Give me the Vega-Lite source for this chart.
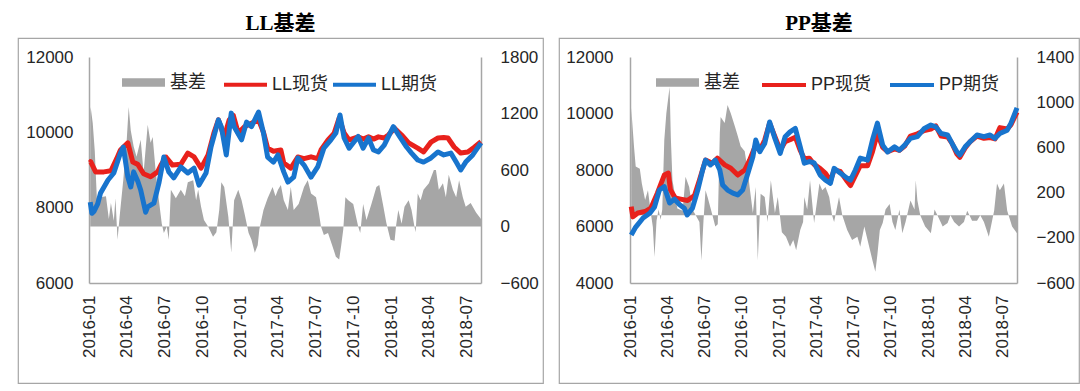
{
  "$schema": "https://vega.github.io/schema/vega-lite/v6.json",
  "background": "white",
  "padding": {"left": 17, "top": 12, "right": 0, "bottom": 0},
  "spacing": 14,
  "resolve": {"scale": {"fill": "independent", "stroke": "independent"}, "legend": {"fill": "independent", "stroke": "independent"}},
  "config": {
    "font": "Liberation Sans",
    "view": {"stroke": "#a6a6a6", "strokeWidth": 1.2, "fill": "white"},
    "axis": {"grid": false, "ticks": false, "domainColor": "#a6a6a6", "domainWidth": 1.5, "labelFontSize": 17, "labelColor": "#262626", "labelFont": "Liberation Sans"},
    "legend": {"labelFontSize": 18, "labelColor": "#262626", "labelFont": "Liberation Sans, Noto Sans CJK SC", "padding": 0},
    "title": {"font": "Liberation Serif, Noto Sans CJK SC", "fontSize": 21, "fontWeight": "bold", "color": "#000000", "anchor": "middle", "baseline": "bottom", "offset": 4}
  },
  "datasets": {
    "ll": [
      {"d": "2016/01/04", "k": "基差", "v": 1200}, {"d": "2016/01/05", "k": "基差", "v": 1270}, {"d": "2016/01/10", "k": "基差", "v": 1100}, {"d": "2016/01/15", "k": "基差", "v": 800}, {"d": "2016/01/20", "k": "基差", "v": 300}, {"d": "2016/01/29", "k": "基差", "v": 310}, {"d": "2016/02/11", "k": "基差", "v": 320}, {"d": "2016/02/18", "k": "基差", "v": 80}, {"d": "2016/02/23", "k": "基差", "v": 250}, {"d": "2016/03/01", "k": "基差", "v": 60}, {"d": "2016/03/05", "k": "基差", "v": 300}, {"d": "2016/03/10", "k": "基差", "v": -140}, {"d": "2016/03/15", "k": "基差", "v": 100}, {"d": "2016/03/24", "k": "基差", "v": 500}, {"d": "2016/04/01", "k": "基差", "v": 900}, {"d": "2016/04/06", "k": "基差", "v": 1270}, {"d": "2016/04/11", "k": "基差", "v": 1020}, {"d": "2016/04/18", "k": "基差", "v": 850}, {"d": "2016/04/25", "k": "基差", "v": 740}, {"d": "2016/05/05", "k": "基差", "v": 920}, {"d": "2016/05/12", "k": "基差", "v": 570}, {"d": "2016/05/22", "k": "基差", "v": 1080}, {"d": "2016/05/29", "k": "基差", "v": 890}, {"d": "2016/06/03", "k": "基差", "v": 950}, {"d": "2016/06/10", "k": "基差", "v": 600}, {"d": "2016/06/18", "k": "基差", "v": 280}, {"d": "2016/06/25", "k": "基差", "v": 30}, {"d": "2016/06/30", "k": "基差", "v": -70}, {"d": "2016/07/07", "k": "基差", "v": 0}, {"d": "2016/07/12", "k": "基差", "v": -140}, {"d": "2016/07/17", "k": "基差", "v": 390}, {"d": "2016/07/29", "k": "基差", "v": 300}, {"d": "2016/08/10", "k": "基差", "v": 390}, {"d": "2016/08/20", "k": "基差", "v": 320}, {"d": "2016/08/27", "k": "基差", "v": 470}, {"d": "2016/09/09", "k": "基差", "v": 490}, {"d": "2016/09/16", "k": "基差", "v": 280}, {"d": "2016/09/21", "k": "基差", "v": 390}, {"d": "2016/09/28", "k": "基差", "v": 210}, {"d": "2016/10/05", "k": "基差", "v": 70}, {"d": "2016/10/15", "k": "基差", "v": 0}, {"d": "2016/10/27", "k": "基差", "v": -110}, {"d": "2016/11/04", "k": "基差", "v": -60}, {"d": "2016/11/11", "k": "基差", "v": 175}, {"d": "2016/11/16", "k": "基差", "v": 470}, {"d": "2016/11/23", "k": "基差", "v": 420}, {"d": "2016/12/03", "k": "基差", "v": 100}, {"d": "2016/12/10", "k": "基差", "v": -280}, {"d": "2016/12/17", "k": "基差", "v": 280}, {"d": "2016/12/27", "k": "基差", "v": 390}, {"d": "2017/01/04", "k": "基差", "v": 280}, {"d": "2017/01/11", "k": "基差", "v": 140}, {"d": "2017/01/21", "k": "基差", "v": -70}, {"d": "2017/01/28", "k": "基差", "v": -140}, {"d": "2017/02/05", "k": "基差", "v": -280}, {"d": "2017/02/12", "k": "基差", "v": -200}, {"d": "2017/02/16", "k": "基差", "v": -30}, {"d": "2017/02/26", "k": "基差", "v": 175}, {"d": "2017/03/08", "k": "基差", "v": 300}, {"d": "2017/03/20", "k": "基差", "v": 420}, {"d": "2017/03/27", "k": "基差", "v": 320}, {"d": "2017/04/02", "k": "基差", "v": 390}, {"d": "2017/04/09", "k": "基差", "v": 440}, {"d": "2017/04/16", "k": "基差", "v": 280}, {"d": "2017/04/26", "k": "基差", "v": 175}, {"d": "2017/05/03", "k": "基差", "v": 420}, {"d": "2017/05/10", "k": "基差", "v": 175}, {"d": "2017/05/22", "k": "基差", "v": 240}, {"d": "2017/06/04", "k": "基差", "v": 420}, {"d": "2017/06/13", "k": "基差", "v": 490}, {"d": "2017/06/21", "k": "基差", "v": 350}, {"d": "2017/07/03", "k": "基差", "v": 310}, {"d": "2017/07/10", "k": "基差", "v": 140}, {"d": "2017/07/15", "k": "基差", "v": 0}, {"d": "2017/07/22", "k": "基差", "v": -90}, {"d": "2017/08/01", "k": "基差", "v": -70}, {"d": "2017/08/11", "k": "基差", "v": -200}, {"d": "2017/08/20", "k": "基差", "v": -320}, {"d": "2017/08/28", "k": "基差", "v": -350}, {"d": "2017/09/02", "k": "基差", "v": -200}, {"d": "2017/09/07", "k": "基差", "v": -30}, {"d": "2017/09/12", "k": "基差", "v": 310}, {"d": "2017/09/19", "k": "基差", "v": 280}, {"d": "2017/10/01", "k": "基差", "v": 240}, {"d": "2017/10/13", "k": "基差", "v": 0}, {"d": "2017/10/18", "k": "基差", "v": -70}, {"d": "2017/10/25", "k": "基差", "v": 240}, {"d": "2017/11/02", "k": "基差", "v": 70}, {"d": "2017/11/14", "k": "基差", "v": 240}, {"d": "2017/11/26", "k": "基差", "v": 420}, {"d": "2017/12/03", "k": "基差", "v": 440}, {"d": "2017/12/13", "k": "基差", "v": 210}, {"d": "2017/12/20", "k": "基差", "v": 40}, {"d": "2017/12/30", "k": "基差", "v": -140}, {"d": "2018/01/09", "k": "基差", "v": -150}, {"d": "2018/01/13", "k": "基差", "v": 20}, {"d": "2018/01/18", "k": "基差", "v": 175}, {"d": "2018/01/26", "k": "基差", "v": 30}, {"d": "2018/02/02", "k": "基差", "v": 210}, {"d": "2018/02/12", "k": "基差", "v": 280}, {"d": "2018/02/19", "k": "基差", "v": 175}, {"d": "2018/02/26", "k": "基差", "v": 0}, {"d": "2018/03/01", "k": "基差", "v": -60}, {"d": "2018/03/06", "k": "基差", "v": 350}, {"d": "2018/03/13", "k": "基差", "v": 280}, {"d": "2018/03/20", "k": "基差", "v": 390}, {"d": "2018/04/02", "k": "基差", "v": 460}, {"d": "2018/04/14", "k": "基差", "v": 600}, {"d": "2018/04/19", "k": "基差", "v": 600}, {"d": "2018/04/26", "k": "基差", "v": 390}, {"d": "2018/05/06", "k": "基差", "v": 460}, {"d": "2018/05/13", "k": "基差", "v": 310}, {"d": "2018/05/20", "k": "基差", "v": 550}, {"d": "2018/05/30", "k": "基差", "v": 390}, {"d": "2018/06/07", "k": "基差", "v": 310}, {"d": "2018/06/14", "k": "基差", "v": 490}, {"d": "2018/06/23", "k": "基差", "v": 310}, {"d": "2018/06/30", "k": "基差", "v": 210}, {"d": "2018/07/12", "k": "基差", "v": 250}, {"d": "2018/07/25", "k": "基差", "v": 150}, {"d": "2018/08/06", "k": "基差", "v": 80},
      {"d": "2016/01/04", "k": "LL现货", "v": 9200}, {"d": "2016/01/05", "k": "LL现货", "v": 9220}, {"d": "2016/01/17", "k": "LL现货", "v": 8950}, {"d": "2016/02/06", "k": "LL现货", "v": 8950}, {"d": "2016/02/23", "k": "LL现货", "v": 8980}, {"d": "2016/03/08", "k": "LL现货", "v": 9300}, {"d": "2016/03/17", "k": "LL现货", "v": 9530}, {"d": "2016/04/04", "k": "LL现货", "v": 9720}, {"d": "2016/04/16", "k": "LL现货", "v": 9210}, {"d": "2016/04/28", "k": "LL现货", "v": 9150}, {"d": "2016/05/12", "k": "LL现货", "v": 8900}, {"d": "2016/05/29", "k": "LL现货", "v": 8820}, {"d": "2016/06/15", "k": "LL现货", "v": 8950}, {"d": "2016/06/23", "k": "LL现货", "v": 9130}, {"d": "2016/07/05", "k": "LL现货", "v": 9345}, {"d": "2016/07/21", "k": "LL现货", "v": 9130}, {"d": "2016/08/10", "k": "LL现货", "v": 9150}, {"d": "2016/08/27", "k": "LL现货", "v": 9450}, {"d": "2016/09/11", "k": "LL现货", "v": 9350}, {"d": "2016/09/28", "k": "LL现货", "v": 9050}, {"d": "2016/10/15", "k": "LL现货", "v": 9400}, {"d": "2016/10/29", "k": "LL现货", "v": 9980}, {"d": "2016/11/09", "k": "LL现货", "v": 10330}, {"d": "2016/11/23", "k": "LL现货", "v": 9880}, {"d": "2016/12/05", "k": "LL现货", "v": 10330}, {"d": "2016/12/15", "k": "LL现货", "v": 10450}, {"d": "2016/12/27", "k": "LL现货", "v": 9980}, {"d": "2017/01/11", "k": "LL现货", "v": 10150}, {"d": "2017/01/28", "k": "LL现货", "v": 10240}, {"d": "2017/02/14", "k": "LL现货", "v": 10330}, {"d": "2017/02/26", "k": "LL现货", "v": 10000}, {"d": "2017/03/08", "k": "LL现货", "v": 9580}, {"d": "2017/03/22", "k": "LL现货", "v": 9500}, {"d": "2017/04/09", "k": "LL现货", "v": 9530}, {"d": "2017/04/16", "k": "LL现货", "v": 9185}, {"d": "2017/05/03", "k": "LL现货", "v": 9050}, {"d": "2017/05/20", "k": "LL现货", "v": 9345}, {"d": "2017/06/04", "k": "LL现货", "v": 9300}, {"d": "2017/06/21", "k": "LL现货", "v": 9350}, {"d": "2017/07/07", "k": "LL现货", "v": 9300}, {"d": "2017/07/15", "k": "LL现货", "v": 9530}, {"d": "2017/08/01", "k": "LL现货", "v": 9800}, {"d": "2017/08/16", "k": "LL现货", "v": 9980}, {"d": "2017/08/28", "k": "LL现货", "v": 10380}, {"d": "2017/09/09", "k": "LL现货", "v": 9980}, {"d": "2017/09/21", "k": "LL现货", "v": 9800}, {"d": "2017/10/13", "k": "LL现货", "v": 9880}, {"d": "2017/10/25", "k": "LL现货", "v": 9820}, {"d": "2017/11/07", "k": "LL现货", "v": 9880}, {"d": "2017/11/19", "k": "LL现货", "v": 9820}, {"d": "2017/12/01", "k": "LL现货", "v": 9880}, {"d": "2017/12/15", "k": "LL现货", "v": 9850}, {"d": "2017/12/25", "k": "LL现货", "v": 9930}, {"d": "2018/01/09", "k": "LL现货", "v": 10110}, {"d": "2018/01/26", "k": "LL现货", "v": 9930}, {"d": "2018/02/12", "k": "LL现货", "v": 9720}, {"d": "2018/03/06", "k": "LL现货", "v": 9580}, {"d": "2018/03/20", "k": "LL现货", "v": 9480}, {"d": "2018/04/07", "k": "LL现货", "v": 9740}, {"d": "2018/04/24", "k": "LL现货", "v": 9850}, {"d": "2018/05/08", "k": "LL现货", "v": 9860}, {"d": "2018/05/18", "k": "LL现货", "v": 9850}, {"d": "2018/06/02", "k": "LL现货", "v": 9610}, {"d": "2018/06/18", "k": "LL现货", "v": 9450}, {"d": "2018/07/05", "k": "LL现货", "v": 9480}, {"d": "2018/07/20", "k": "LL现货", "v": 9600}, {"d": "2018/08/06", "k": "LL现货", "v": 9750},
      {"d": "2016/01/04", "k": "LL期货", "v": 8150}, {"d": "2016/01/08", "k": "LL期货", "v": 7850}, {"d": "2016/01/13", "k": "LL期货", "v": 7900}, {"d": "2016/01/22", "k": "LL期货", "v": 8100}, {"d": "2016/01/29", "k": "LL期货", "v": 8390}, {"d": "2016/02/16", "k": "LL期货", "v": 8735}, {"d": "2016/03/01", "k": "LL期货", "v": 8920}, {"d": "2016/03/17", "k": "LL期货", "v": 9450}, {"d": "2016/03/24", "k": "LL期货", "v": 9610}, {"d": "2016/04/04", "k": "LL期货", "v": 8810}, {"d": "2016/04/11", "k": "LL期货", "v": 8550}, {"d": "2016/04/18", "k": "LL期货", "v": 8950}, {"d": "2016/04/28", "k": "LL期货", "v": 8700}, {"d": "2016/05/05", "k": "LL期货", "v": 8470}, {"d": "2016/05/17", "k": "LL期货", "v": 7880}, {"d": "2016/05/22", "k": "LL期货", "v": 8020}, {"d": "2016/06/06", "k": "LL期货", "v": 8120}, {"d": "2016/06/18", "k": "LL期货", "v": 8650}, {"d": "2016/06/30", "k": "LL期货", "v": 9345}, {"d": "2016/07/12", "k": "LL期货", "v": 8950}, {"d": "2016/07/24", "k": "LL期货", "v": 8790}, {"d": "2016/08/10", "k": "LL期货", "v": 9080}, {"d": "2016/08/27", "k": "LL期货", "v": 8920}, {"d": "2016/09/11", "k": "LL期货", "v": 9050}, {"d": "2016/09/23", "k": "LL期货", "v": 8600}, {"d": "2016/10/10", "k": "LL期货", "v": 8920}, {"d": "2016/10/22", "k": "LL期货", "v": 9610}, {"d": "2016/11/09", "k": "LL期货", "v": 10330}, {"d": "2016/11/16", "k": "LL期货", "v": 10150}, {"d": "2016/11/28", "k": "LL期货", "v": 9400}, {"d": "2016/12/10", "k": "LL期货", "v": 10510}, {"d": "2016/12/17", "k": "LL期货", "v": 10150}, {"d": "2017/01/04", "k": "LL期货", "v": 9800}, {"d": "2017/01/16", "k": "LL期货", "v": 10270}, {"d": "2017/01/28", "k": "LL期货", "v": 10150}, {"d": "2017/02/14", "k": "LL期货", "v": 10540}, {"d": "2017/02/26", "k": "LL期货", "v": 9980}, {"d": "2017/03/08", "k": "LL期货", "v": 9345}, {"d": "2017/03/22", "k": "LL期货", "v": 9210}, {"d": "2017/04/02", "k": "LL期货", "v": 9400}, {"d": "2017/04/16", "k": "LL期货", "v": 8950}, {"d": "2017/04/26", "k": "LL期货", "v": 8680}, {"d": "2017/05/10", "k": "LL期货", "v": 8810}, {"d": "2017/05/20", "k": "LL期货", "v": 9320}, {"d": "2017/06/04", "k": "LL期货", "v": 9130}, {"d": "2017/06/21", "k": "LL期货", "v": 8810}, {"d": "2017/07/07", "k": "LL期货", "v": 9080}, {"d": "2017/07/22", "k": "LL期货", "v": 9580}, {"d": "2017/08/08", "k": "LL期货", "v": 9800}, {"d": "2017/08/20", "k": "LL期货", "v": 9980}, {"d": "2017/08/30", "k": "LL期货", "v": 10460}, {"d": "2017/09/09", "k": "LL期货", "v": 9850}, {"d": "2017/09/21", "k": "LL期货", "v": 9580}, {"d": "2017/10/13", "k": "LL期货", "v": 9890}, {"d": "2017/10/25", "k": "LL期货", "v": 9580}, {"d": "2017/11/07", "k": "LL期货", "v": 9850}, {"d": "2017/11/19", "k": "LL期货", "v": 9530}, {"d": "2017/12/01", "k": "LL期货", "v": 9480}, {"d": "2017/12/15", "k": "LL期货", "v": 9660}, {"d": "2018/01/06", "k": "LL期货", "v": 10150}, {"d": "2018/01/21", "k": "LL期货", "v": 9890}, {"d": "2018/02/07", "k": "LL期货", "v": 9610}, {"d": "2018/02/19", "k": "LL期货", "v": 9450}, {"d": "2018/03/06", "k": "LL期货", "v": 9265}, {"d": "2018/03/20", "k": "LL期货", "v": 9210}, {"d": "2018/04/07", "k": "LL期货", "v": 9320}, {"d": "2018/04/24", "k": "LL期货", "v": 9480}, {"d": "2018/05/08", "k": "LL期货", "v": 9400}, {"d": "2018/05/25", "k": "LL期货", "v": 9450}, {"d": "2018/06/07", "k": "LL期货", "v": 9210}, {"d": "2018/06/18", "k": "LL期货", "v": 9000}, {"d": "2018/06/30", "k": "LL期货", "v": 9210}, {"d": "2018/07/17", "k": "LL期货", "v": 9400}, {"d": "2018/08/06", "k": "LL期货", "v": 9720}
    ],
    "pp": [
      {"d": "2016/01/04", "k": "基差", "v": 950}, {"d": "2016/01/06", "k": "基差", "v": 850}, {"d": "2016/01/11", "k": "基差", "v": 600}, {"d": "2016/01/15", "k": "基差", "v": 430}, {"d": "2016/01/25", "k": "基差", "v": 410}, {"d": "2016/01/30", "k": "基差", "v": 280}, {"d": "2016/02/07", "k": "基差", "v": 135}, {"d": "2016/02/14", "k": "基差", "v": 220}, {"d": "2016/02/21", "k": "基差", "v": 20}, {"d": "2016/02/26", "k": "基差", "v": -105}, {"d": "2016/03/01", "k": "基差", "v": -370}, {"d": "2016/03/06", "k": "基差", "v": -50}, {"d": "2016/03/11", "k": "基差", "v": 50}, {"d": "2016/03/16", "k": "基差", "v": -40}, {"d": "2016/03/20", "k": "基差", "v": 50}, {"d": "2016/03/25", "k": "基差", "v": 665}, {"d": "2016/03/30", "k": "基差", "v": 900}, {"d": "2016/04/07", "k": "基差", "v": 1135}, {"d": "2016/04/10", "k": "基差", "v": 690}, {"d": "2016/04/14", "k": "基差", "v": 310}, {"d": "2016/04/26", "k": "基差", "v": 60}, {"d": "2016/05/09", "k": "基差", "v": 40}, {"d": "2016/05/16", "k": "基差", "v": 340}, {"d": "2016/05/25", "k": "基差", "v": 250}, {"d": "2016/06/02", "k": "基差", "v": 50}, {"d": "2016/06/10", "k": "基差", "v": 0}, {"d": "2016/06/19", "k": "基差", "v": -60}, {"d": "2016/06/24", "k": "基差", "v": -400}, {"d": "2016/06/29", "k": "基差", "v": -50}, {"d": "2016/07/04", "k": "基差", "v": 220}, {"d": "2016/07/09", "k": "基差", "v": 160}, {"d": "2016/07/21", "k": "基差", "v": 0}, {"d": "2016/07/28", "k": "基差", "v": -100}, {"d": "2016/08/03", "k": "基差", "v": -80}, {"d": "2016/08/08", "k": "基差", "v": 725}, {"d": "2016/08/10", "k": "基差", "v": 870}, {"d": "2016/08/20", "k": "基差", "v": 815}, {"d": "2016/08/27", "k": "基差", "v": 975}, {"d": "2016/09/04", "k": "基差", "v": 900}, {"d": "2016/09/14", "k": "基差", "v": 785}, {"d": "2016/09/21", "k": "基差", "v": 700}, {"d": "2016/09/28", "k": "基差", "v": 610}, {"d": "2016/10/08", "k": "基差", "v": 565}, {"d": "2016/10/16", "k": "基差", "v": 375}, {"d": "2016/10/20", "k": "基差", "v": 250}, {"d": "2016/10/28", "k": "基差", "v": 20}, {"d": "2016/11/04", "k": "基差", "v": 250}, {"d": "2016/11/09", "k": "基差", "v": -400}, {"d": "2016/11/16", "k": "基差", "v": 190}, {"d": "2016/11/26", "k": "基差", "v": 160}, {"d": "2016/12/03", "k": "基差", "v": -60}, {"d": "2016/12/11", "k": "基差", "v": 310}, {"d": "2016/12/21", "k": "基差", "v": 20}, {"d": "2016/12/28", "k": "基差", "v": 160}, {"d": "2017/01/07", "k": "基差", "v": -150}, {"d": "2017/01/17", "k": "基差", "v": -190}, {"d": "2017/01/27", "k": "基差", "v": -280}, {"d": "2017/02/04", "k": "基差", "v": -220}, {"d": "2017/02/11", "k": "基差", "v": -310}, {"d": "2017/02/21", "k": "基差", "v": -130}, {"d": "2017/02/28", "k": "基差", "v": -60}, {"d": "2017/03/03", "k": "基差", "v": 160}, {"d": "2017/03/10", "k": "基差", "v": 50}, {"d": "2017/03/17", "k": "基差", "v": 310}, {"d": "2017/03/27", "k": "基差", "v": -70}, {"d": "2017/04/09", "k": "基差", "v": 280}, {"d": "2017/04/16", "k": "基差", "v": 220}, {"d": "2017/04/24", "k": "基差", "v": 250}, {"d": "2017/05/03", "k": "基差", "v": 160}, {"d": "2017/05/10", "k": "基差", "v": 0}, {"d": "2017/05/15", "k": "基差", "v": -60}, {"d": "2017/05/27", "k": "基差", "v": 160}, {"d": "2017/06/04", "k": "基差", "v": 0}, {"d": "2017/06/16", "k": "基差", "v": -130}, {"d": "2017/06/28", "k": "基差", "v": -220}, {"d": "2017/07/11", "k": "基差", "v": -190}, {"d": "2017/07/18", "k": "基差", "v": -280}, {"d": "2017/07/28", "k": "基差", "v": -100}, {"d": "2017/08/07", "k": "基差", "v": -250}, {"d": "2017/08/17", "k": "基差", "v": -400}, {"d": "2017/08/24", "k": "基差", "v": -500}, {"d": "2017/08/29", "k": "基差", "v": -350}, {"d": "2017/09/04", "k": "基差", "v": -130}, {"d": "2017/09/11", "k": "基差", "v": -70}, {"d": "2017/09/18", "k": "基差", "v": 50}, {"d": "2017/09/28", "k": "基差", "v": 100}, {"d": "2017/10/05", "k": "基差", "v": -60}, {"d": "2017/10/12", "k": "基差", "v": -130}, {"d": "2017/10/22", "k": "基差", "v": 50}, {"d": "2017/10/29", "k": "基差", "v": -160}, {"d": "2017/11/06", "k": "基差", "v": -60}, {"d": "2017/11/18", "k": "基差", "v": 130}, {"d": "2017/11/28", "k": "基差", "v": 50}, {"d": "2017/12/01", "k": "基差", "v": 310}, {"d": "2017/12/05", "k": "基差", "v": 130}, {"d": "2017/12/12", "k": "基差", "v": 0}, {"d": "2017/12/24", "k": "基差", "v": -100}, {"d": "2018/01/07", "k": "基差", "v": -160}, {"d": "2018/01/16", "k": "基差", "v": 50}, {"d": "2018/01/23", "k": "基差", "v": 0}, {"d": "2018/02/05", "k": "基差", "v": -100}, {"d": "2018/02/17", "k": "基差", "v": -70}, {"d": "2018/02/24", "k": "基差", "v": 0}, {"d": "2018/03/05", "k": "基差", "v": -60}, {"d": "2018/03/17", "k": "基差", "v": -100}, {"d": "2018/03/29", "k": "基差", "v": -60}, {"d": "2018/04/06", "k": "基差", "v": 40}, {"d": "2018/04/18", "k": "基差", "v": -50}, {"d": "2018/04/30", "k": "基差", "v": -50}, {"d": "2018/05/08", "k": "基差", "v": 0}, {"d": "2018/05/17", "k": "基差", "v": -60}, {"d": "2018/05/29", "k": "基差", "v": -190}, {"d": "2018/06/11", "k": "基差", "v": 40}, {"d": "2018/06/18", "k": "基差", "v": 280}, {"d": "2018/06/25", "k": "基差", "v": 220}, {"d": "2018/07/05", "k": "基差", "v": 280}, {"d": "2018/07/13", "k": "基差", "v": 40}, {"d": "2018/07/25", "k": "基差", "v": -100}, {"d": "2018/08/06", "k": "基差", "v": -160},
      {"d": "2016/01/04", "k": "PP现货", "v": 6700}, {"d": "2016/01/08", "k": "PP现货", "v": 6340}, {"d": "2016/01/20", "k": "PP现货", "v": 6480}, {"d": "2016/02/07", "k": "PP现货", "v": 6530}, {"d": "2016/02/21", "k": "PP现货", "v": 6650}, {"d": "2016/03/08", "k": "PP现货", "v": 7180}, {"d": "2016/03/25", "k": "PP现货", "v": 7820}, {"d": "2016/04/04", "k": "PP现货", "v": 7890}, {"d": "2016/04/09", "k": "PP现货", "v": 7300}, {"d": "2016/04/21", "k": "PP现货", "v": 7010}, {"d": "2016/05/04", "k": "PP现货", "v": 6970}, {"d": "2016/05/21", "k": "PP现货", "v": 6920}, {"d": "2016/06/07", "k": "PP现货", "v": 7100}, {"d": "2016/06/19", "k": "PP现货", "v": 7640}, {"d": "2016/07/04", "k": "PP现货", "v": 8350}, {"d": "2016/07/21", "k": "PP现货", "v": 8240}, {"d": "2016/08/02", "k": "PP现货", "v": 8420}, {"d": "2016/08/20", "k": "PP现货", "v": 8180}, {"d": "2016/09/04", "k": "PP现货", "v": 8060}, {"d": "2016/09/21", "k": "PP现货", "v": 7820}, {"d": "2016/10/08", "k": "PP现货", "v": 8000}, {"d": "2016/10/20", "k": "PP现货", "v": 8350}, {"d": "2016/11/02", "k": "PP现货", "v": 8820}, {"d": "2016/11/14", "k": "PP现货", "v": 8700}, {"d": "2016/11/26", "k": "PP现货", "v": 9060}, {"d": "2016/12/08", "k": "PP现货", "v": 9660}, {"d": "2016/12/21", "k": "PP现货", "v": 9180}, {"d": "2017/01/03", "k": "PP现货", "v": 8700}, {"d": "2017/01/15", "k": "PP现货", "v": 9000}, {"d": "2017/01/27", "k": "PP现货", "v": 9070}, {"d": "2017/02/09", "k": "PP现货", "v": 9160}, {"d": "2017/02/21", "k": "PP现货", "v": 8690}, {"d": "2017/03/03", "k": "PP现货", "v": 8400}, {"d": "2017/03/15", "k": "PP现货", "v": 8420}, {"d": "2017/03/27", "k": "PP现货", "v": 8200}, {"d": "2017/04/11", "k": "PP现货", "v": 8050}, {"d": "2017/04/24", "k": "PP现货", "v": 7880}, {"d": "2017/05/06", "k": "PP现货", "v": 7620}, {"d": "2017/05/15", "k": "PP现货", "v": 8000}, {"d": "2017/05/30", "k": "PP现货", "v": 7950}, {"d": "2017/06/16", "k": "PP现货", "v": 7600}, {"d": "2017/06/24", "k": "PP现货", "v": 7450}, {"d": "2017/07/06", "k": "PP现货", "v": 7800}, {"d": "2017/07/18", "k": "PP现货", "v": 8150}, {"d": "2017/08/05", "k": "PP现货", "v": 8150}, {"d": "2017/08/17", "k": "PP现货", "v": 8650}, {"d": "2017/08/29", "k": "PP现货", "v": 9300}, {"d": "2017/09/11", "k": "PP现货", "v": 8800}, {"d": "2017/09/23", "k": "PP现货", "v": 8650}, {"d": "2017/10/10", "k": "PP现货", "v": 8750}, {"d": "2017/10/22", "k": "PP现货", "v": 8700}, {"d": "2017/11/04", "k": "PP现货", "v": 8850}, {"d": "2017/11/18", "k": "PP现货", "v": 9200}, {"d": "2017/12/05", "k": "PP现货", "v": 9280}, {"d": "2017/12/22", "k": "PP现货", "v": 9400}, {"d": "2018/01/07", "k": "PP现货", "v": 9450}, {"d": "2018/01/19", "k": "PP现货", "v": 9560}, {"d": "2018/02/01", "k": "PP现货", "v": 9200}, {"d": "2018/02/17", "k": "PP现货", "v": 9170}, {"d": "2018/02/28", "k": "PP现货", "v": 8940}, {"d": "2018/03/12", "k": "PP现货", "v": 8560}, {"d": "2018/03/19", "k": "PP现货", "v": 8450}, {"d": "2018/04/01", "k": "PP现货", "v": 8780}, {"d": "2018/04/13", "k": "PP现货", "v": 9000}, {"d": "2018/04/30", "k": "PP现货", "v": 9200}, {"d": "2018/05/17", "k": "PP现货", "v": 9120}, {"d": "2018/06/01", "k": "PP现货", "v": 9150}, {"d": "2018/06/13", "k": "PP现货", "v": 9100}, {"d": "2018/06/25", "k": "PP现货", "v": 9500}, {"d": "2018/07/13", "k": "PP现货", "v": 9450}, {"d": "2018/07/22", "k": "PP现货", "v": 9600}, {"d": "2018/08/06", "k": "PP现货", "v": 10050},
      {"d": "2016/01/04", "k": "PP期货", "v": 5700}, {"d": "2016/01/15", "k": "PP期货", "v": 5980}, {"d": "2016/02/02", "k": "PP期货", "v": 6300}, {"d": "2016/02/19", "k": "PP期货", "v": 6480}, {"d": "2016/03/01", "k": "PP期货", "v": 6690}, {"d": "2016/03/13", "k": "PP期货", "v": 7290}, {"d": "2016/03/25", "k": "PP期货", "v": 7410}, {"d": "2016/04/07", "k": "PP期货", "v": 6830}, {"d": "2016/04/19", "k": "PP期货", "v": 6970}, {"d": "2016/05/01", "k": "PP期货", "v": 6780}, {"d": "2016/05/13", "k": "PP期货", "v": 6650}, {"d": "2016/05/20", "k": "PP期货", "v": 6410}, {"d": "2016/06/02", "k": "PP期货", "v": 6650}, {"d": "2016/06/15", "k": "PP期货", "v": 7290}, {"d": "2016/06/27", "k": "PP期货", "v": 8000}, {"d": "2016/07/04", "k": "PP期货", "v": 8350}, {"d": "2016/07/16", "k": "PP期货", "v": 8180}, {"d": "2016/07/28", "k": "PP期货", "v": 8350}, {"d": "2016/08/08", "k": "PP期货", "v": 8000}, {"d": "2016/08/15", "k": "PP期货", "v": 7470}, {"d": "2016/08/27", "k": "PP期货", "v": 7290}, {"d": "2016/09/09", "k": "PP期货", "v": 7180}, {"d": "2016/09/21", "k": "PP期货", "v": 7120}, {"d": "2016/10/03", "k": "PP期货", "v": 7290}, {"d": "2016/10/16", "k": "PP期货", "v": 7890}, {"d": "2016/10/28", "k": "PP期货", "v": 8470}, {"d": "2016/11/04", "k": "PP期货", "v": 9060}, {"d": "2016/11/14", "k": "PP期货", "v": 8650}, {"d": "2016/11/26", "k": "PP期货", "v": 8940}, {"d": "2016/12/08", "k": "PP期货", "v": 9700}, {"d": "2016/12/21", "k": "PP期货", "v": 9120}, {"d": "2017/01/03", "k": "PP期货", "v": 8590}, {"d": "2017/01/15", "k": "PP期货", "v": 9180}, {"d": "2017/01/27", "k": "PP期货", "v": 9350}, {"d": "2017/02/09", "k": "PP期货", "v": 9470}, {"d": "2017/02/21", "k": "PP期货", "v": 8820}, {"d": "2017/03/03", "k": "PP期货", "v": 8240}, {"d": "2017/03/15", "k": "PP期货", "v": 8300}, {"d": "2017/03/27", "k": "PP期货", "v": 8250}, {"d": "2017/04/11", "k": "PP期货", "v": 7820}, {"d": "2017/04/24", "k": "PP期货", "v": 7640}, {"d": "2017/05/06", "k": "PP期货", "v": 7530}, {"d": "2017/05/15", "k": "PP期货", "v": 8060}, {"d": "2017/05/30", "k": "PP期货", "v": 7890}, {"d": "2017/06/16", "k": "PP期货", "v": 7710}, {"d": "2017/06/24", "k": "PP期货", "v": 7640}, {"d": "2017/07/06", "k": "PP期货", "v": 8000}, {"d": "2017/07/18", "k": "PP期货", "v": 8420}, {"d": "2017/08/05", "k": "PP期货", "v": 8350}, {"d": "2017/08/17", "k": "PP期货", "v": 9060}, {"d": "2017/08/29", "k": "PP期货", "v": 9660}, {"d": "2017/09/11", "k": "PP期货", "v": 8880}, {"d": "2017/09/23", "k": "PP期货", "v": 8640}, {"d": "2017/10/10", "k": "PP期货", "v": 8820}, {"d": "2017/10/22", "k": "PP期货", "v": 8700}, {"d": "2017/11/04", "k": "PP期货", "v": 8880}, {"d": "2017/11/18", "k": "PP期货", "v": 9120}, {"d": "2017/12/05", "k": "PP期货", "v": 9180}, {"d": "2017/12/22", "k": "PP期货", "v": 9470}, {"d": "2018/01/07", "k": "PP期货", "v": 9590}, {"d": "2018/01/19", "k": "PP期货", "v": 9530}, {"d": "2018/02/01", "k": "PP期货", "v": 9290}, {"d": "2018/02/17", "k": "PP期货", "v": 9240}, {"d": "2018/02/28", "k": "PP期货", "v": 8940}, {"d": "2018/03/12", "k": "PP期货", "v": 8640}, {"d": "2018/03/19", "k": "PP期货", "v": 8530}, {"d": "2018/04/01", "k": "PP期货", "v": 8820}, {"d": "2018/04/13", "k": "PP期货", "v": 9000}, {"d": "2018/04/30", "k": "PP期货", "v": 9240}, {"d": "2018/05/17", "k": "PP期货", "v": 9180}, {"d": "2018/06/01", "k": "PP期货", "v": 9240}, {"d": "2018/06/13", "k": "PP期货", "v": 9120}, {"d": "2018/06/25", "k": "PP期货", "v": 9290}, {"d": "2018/07/13", "k": "PP期货", "v": 9410}, {"d": "2018/07/22", "k": "PP期货", "v": 9650}, {"d": "2018/08/06", "k": "PP期货", "v": 10200}
    ]
  },
  "hconcat": [
    {
      "width": 525,
      "height": 345,
      "title": {"text": "LL基差"},
      "data": {"name": "ll"},
      "encoding": {
        "x": {
          "field": "d", "type": "temporal",
          "scale": {"domain": [{"year": 2016, "month": 1, "date": 1}, {"year": 2018, "month": 8, "date": 6}], "range": [71, 463]},
          "axis": {"orient": "bottom", "offset": -100, "title": null, "format": "%Y-%m", "labelAngle": -90, "labelAlign": "right", "labelBaseline": "middle", "labelPadding": 12, "labelFontSize": 17,
            "values": [{"year": 2016, "month": 1, "date": 1}, {"year": 2016, "month": 4, "date": 1}, {"year": 2016, "month": 7, "date": 1}, {"year": 2016, "month": 10, "date": 1}, {"year": 2017, "month": 1, "date": 1}, {"year": 2017, "month": 4, "date": 1}, {"year": 2017, "month": 7, "date": 1}, {"year": 2017, "month": 10, "date": 1}, {"year": 2018, "month": 1, "date": 1}, {"year": 2018, "month": 4, "date": 1}, {"year": 2018, "month": 7, "date": 1}]}
        }
      },
      "layer": [
        {
          "transform": [{"filter": "datum.k === '基差'"}],
          "mark": {"type": "area", "opacity": 1},
          "encoding": {
            "y": {"field": "v", "type": "quantitative", "scale": {"domain": [-600, 1800], "range": [245, 19], "nice": false, "zero": false},
              "axis": {"orient": "right", "offset": -62, "title": null, "format": "d", "values": [-600, 0, 600, 1200, 1800], "labelPadding": 19}},
            "fill": {"field": "k", "type": "nominal", "scale": {"domain": ["基差"], "range": ["#a6a6a6"]},
              "legend": {"orient": "none", "legendX": 104, "legendY": 23, "title": null, "symbolType": "M-1,-0.2H1V0.2H-1Z", "symbolSize": 1849, "symbolStrokeWidth": 0, "symbolOpacity": 1, "labelOffset": 5}}
          }
        },
        {
          "encoding": {
            "y": {"field": "v", "type": "quantitative", "scale": {"domain": [6000, 12000], "range": [245, 19], "nice": false, "zero": false},
              "axis": {"orient": "left", "offset": -71, "title": null, "format": "d", "values": [6000, 8000, 10000, 12000], "labelPadding": 16}},
            "stroke": {"field": "k", "type": "nominal", "scale": {"domain": ["LL现货", "LL期货"], "range": ["#e8211c", "#1874cd"]},
              "legend": {"orient": "none", "legendX": 204, "legendY": 23, "direction": "horizontal", "title": null, "symbolType": "stroke", "symbolSize": 1849, "symbolStrokeWidth": 4, "labelOffset": 3, "columnPadding": -4}}
          },
          "layer": [
            {"transform": [{"filter": "datum.k === 'LL现货'"}], "mark": {"type": "line", "strokeWidth": 5, "strokeJoin": "round"}},
            {"transform": [{"filter": "datum.k === 'LL期货'"}], "mark": {"type": "line", "strokeWidth": 5, "strokeJoin": "round"}}
          ]
        }
      ],
      "resolve": {"scale": {"y": "independent"}}
    },
    {
      "width": 520,
      "height": 345,
      "title": {"text": "PP基差"},
      "data": {"name": "pp"},
      "encoding": {
        "x": {
          "field": "d", "type": "temporal",
          "scale": {"domain": [{"year": 2016, "month": 1, "date": 1}, {"year": 2018, "month": 8, "date": 6}], "range": [71, 458]},
          "axis": {"orient": "bottom", "offset": -100, "title": null, "format": "%Y-%m", "labelAngle": -90, "labelAlign": "right", "labelBaseline": "middle", "labelPadding": 12, "labelFontSize": 17,
            "values": [{"year": 2016, "month": 1, "date": 1}, {"year": 2016, "month": 4, "date": 1}, {"year": 2016, "month": 7, "date": 1}, {"year": 2016, "month": 10, "date": 1}, {"year": 2017, "month": 1, "date": 1}, {"year": 2017, "month": 4, "date": 1}, {"year": 2017, "month": 7, "date": 1}, {"year": 2017, "month": 10, "date": 1}, {"year": 2018, "month": 1, "date": 1}, {"year": 2018, "month": 4, "date": 1}, {"year": 2018, "month": 7, "date": 1}]}
        }
      },
      "layer": [
        {
          "transform": [{"filter": "datum.k === '基差'"}],
          "mark": {"type": "area", "opacity": 1},
          "encoding": {
            "y": {"field": "v", "type": "quantitative", "scale": {"domain": [-600, 1400], "range": [245, 19], "nice": false, "zero": false},
              "axis": {"orient": "right", "offset": -62, "title": null, "format": "d", "values": [-600, -200, 200, 600, 1000, 1400], "labelPadding": 19}},
            "fill": {"field": "k", "type": "nominal", "scale": {"domain": ["基差"], "range": ["#a6a6a6"]},
              "legend": {"orient": "none", "legendX": 97, "legendY": 23, "title": null, "symbolType": "M-1,-0.2H1V0.2H-1Z", "symbolSize": 1849, "symbolStrokeWidth": 0, "symbolOpacity": 1, "labelOffset": 5}}
          }
        },
        {
          "encoding": {
            "y": {"field": "v", "type": "quantitative", "scale": {"domain": [4000, 12000], "range": [245, 19], "nice": false, "zero": false},
              "axis": {"orient": "left", "offset": -71, "title": null, "format": "d", "values": [4000, 6000, 8000, 10000, 12000], "labelPadding": 17}},
            "stroke": {"field": "k", "type": "nominal", "scale": {"domain": ["PP现货", "PP期货"], "range": ["#e8211c", "#1874cd"]},
              "legend": {"orient": "none", "legendX": 201, "legendY": 23, "direction": "horizontal", "title": null, "symbolType": "stroke", "symbolSize": 1936, "symbolStrokeWidth": 4, "labelOffset": 3, "columnPadding": 10}}
          },
          "layer": [
            {"transform": [{"filter": "datum.k === 'PP现货'"}], "mark": {"type": "line", "strokeWidth": 5, "strokeJoin": "round"}},
            {"transform": [{"filter": "datum.k === 'PP期货'"}], "mark": {"type": "line", "strokeWidth": 5, "strokeJoin": "round"}}
          ]
        }
      ],
      "resolve": {"scale": {"y": "independent"}}
    }
  ]
}
